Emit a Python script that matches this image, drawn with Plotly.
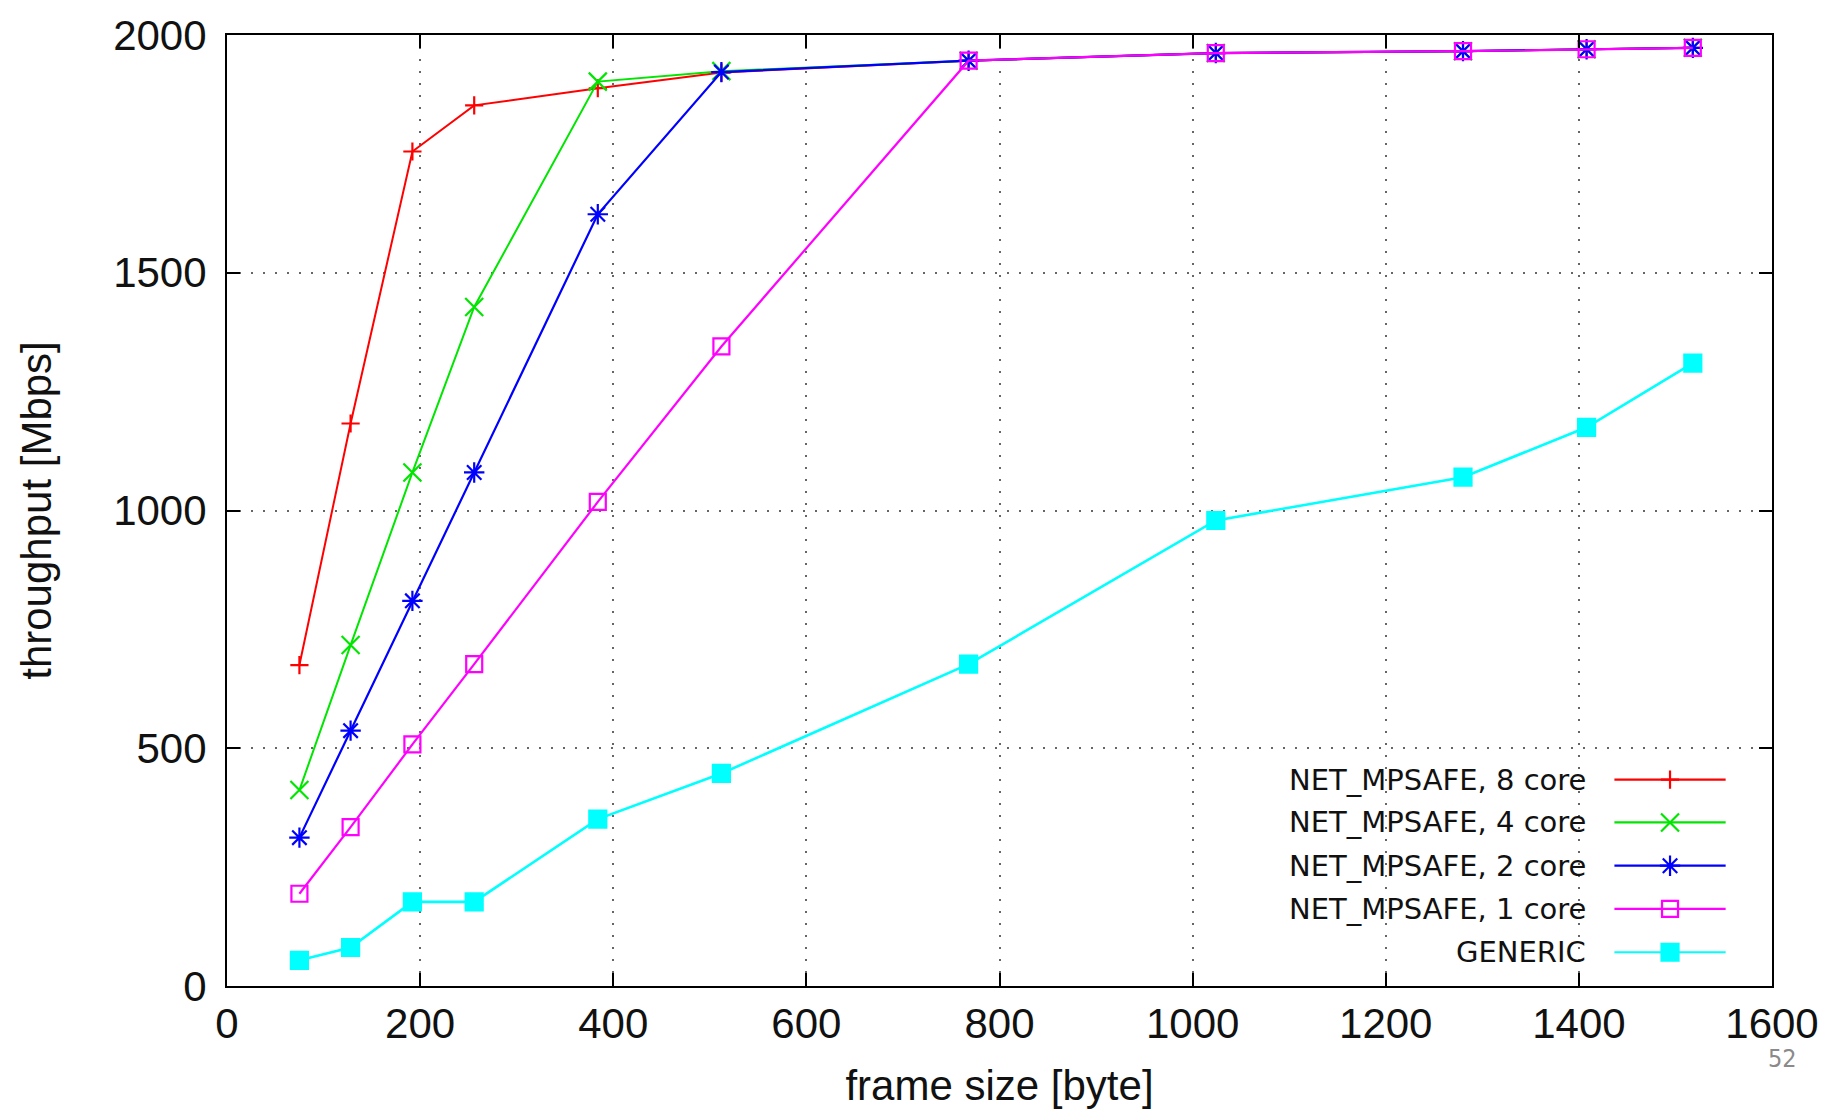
import plotly.graph_objects as go

# ---- data ----
frame_size = [75, 128, 192, 256, 384, 512, 768, 1024, 1280, 1408, 1518]
mpsafe_8core = [675, 1183, 1755, 1852, 1888, 1921, 1946, 1962, 1966, 1970, 1973]
mpsafe_4core = [412, 717, 1080, 1428, 1902, 1924, 1946, 1962, 1966, 1970, 1973]
mpsafe_2core = [312, 537, 810, 1080, 1623, 1922, 1946, 1962, 1966, 1970, 1973]
mpsafe_1core = [194, 334, 508, 677, 1018, 1345, 1946, 1962, 1966, 1970, 1973]
generic = [54, 81, 177, 177, 351, 447, 677, 979, 1070, 1175, 1310]

series_names = ["NET_MPSAFE, 8 core", "NET_MPSAFE, 4 core", "NET_MPSAFE, 2 core",
                "NET_MPSAFE, 1 core", "GENERIC"]
series_values = [mpsafe_8core, mpsafe_4core, mpsafe_2core, mpsafe_1core, generic]

x_ticks = [0, 200, 400, 600, 800, 1000, 1200, 1400, 1600]
y_ticks = [0, 500, 1000, 1500, 2000]

# ---- styles ----
colors = ["#ff0000", "#00e600", "#0000ff", "#ff00ff", "#00ffff"]
symbols = ["cross-thin-open", "x-thin-open", "asterisk-open", "square-open", "square"]
sizes = [13, 18, 17, 16, 17]
line_widths = [2, 2, 2.2, 2.2, 2.6]

fig = go.Figure()

for name, vals, c, s, sz, lw in zip(series_names, series_values, colors, symbols, sizes, line_widths):
    fig.add_trace(go.Scatter(
        x=frame_size, y=vals, name=name, mode="lines+markers",
        line=dict(color=c, width=lw),
        marker=dict(symbol=s, size=sz, color=c, line=dict(color=c, width=2.2)),
        showlegend=False,
    ))

# ---- custom gnuplot-style key (text right, sample left) ----
key_rows_y = [0.217, 0.172, 0.1265, 0.081, 0.0355]   # paper coords of rows (within plot domain)
key_text_x = 0.881
key_line_x0, key_line_x1, key_mark_x = 0.898, 0.970, 0.934

# white box hiding the grid behind the key
fig.add_shape(type="rect", xref="paper", yref="paper", x0=0.515, x1=1.0, y0=0.005, y1=0.247,
              fillcolor="white", line=dict(width=0), layer="between")

for name, c, s, sz, ry in zip(series_names, colors, symbols, sizes, key_rows_y):
    fig.add_annotation(xref="paper", yref="paper", x=key_text_x, y=ry, text=name,
                       showarrow=False, xanchor="right", yanchor="middle",
                       font=dict(family="DejaVu Sans", size=29, color="#111111"))
    fig.add_shape(type="line", xref="paper", yref="paper", x0=key_line_x0, x1=key_line_x1,
                  y0=ry, y1=ry, line=dict(color=c, width=2.2))
    fig.add_trace(go.Scatter(
        x=[key_mark_x], y=[ry], xaxis="x2", yaxis="y2", mode="markers",
        marker=dict(symbol=s, size=sz, color=c, line=dict(color=c, width=2.2)),
        showlegend=False, hoverinfo="skip",
    ))

axis_font = dict(family="Liberation Sans, Arial, sans-serif", size=42, color="#111111")
grid_style = dict(showgrid=True, gridcolor="#666666", griddash="2px,10px", gridwidth=1.5)
frame_style = dict(showline=True, linecolor="black", linewidth=2, mirror="allticks",
                   ticks="inside", ticklen=13, tickwidth=2, tickcolor="black",
                   tickfont=axis_font, zeroline=False, automargin=False)

fig.update_layout(
    width=1829, height=1109,
    paper_bgcolor="white", plot_bgcolor="white",
    margin=dict(l=227, r=57, t=35, b=123),
    showlegend=False,
    xaxis=dict(
        range=[0, 1600], tickvals=x_ticks, ticktext=[str(v) for v in x_ticks],
        ticklabelstandoff=0,
        title=dict(text="frame size [byte]", font=axis_font, standoff=27),
        **grid_style, **frame_style,
    ),
    yaxis=dict(
        range=[0, 2000], tickvals=y_ticks, ticktext=[str(v) for v in y_ticks],
        ticklabelstandoff=10,
        title=dict(text="throughput [Mbps]", font=axis_font, standoff=48),
        **grid_style, **frame_style,
    ),
    xaxis2=dict(overlaying="x", range=[0, 1], visible=False, domain=[0, 1]),
    yaxis2=dict(overlaying="y", range=[0, 1], visible=False),
)

fig.add_annotation(xref="paper", yref="paper", x=1.007, y=-0.076, text="52",
                   showarrow=False, xanchor="center", yanchor="middle",
                   font=dict(family="DejaVu Sans Condensed, Liberation Sans Narrow, sans-serif",
                             size=25, color="#8a8a8a"))

fig.write_html(
    "out.html",
    config={"displayModeBar": False},
    post_script="document.body.style.margin='0';document.body.style.padding='0';"
                "document.body.style.overflow='hidden';",
)
